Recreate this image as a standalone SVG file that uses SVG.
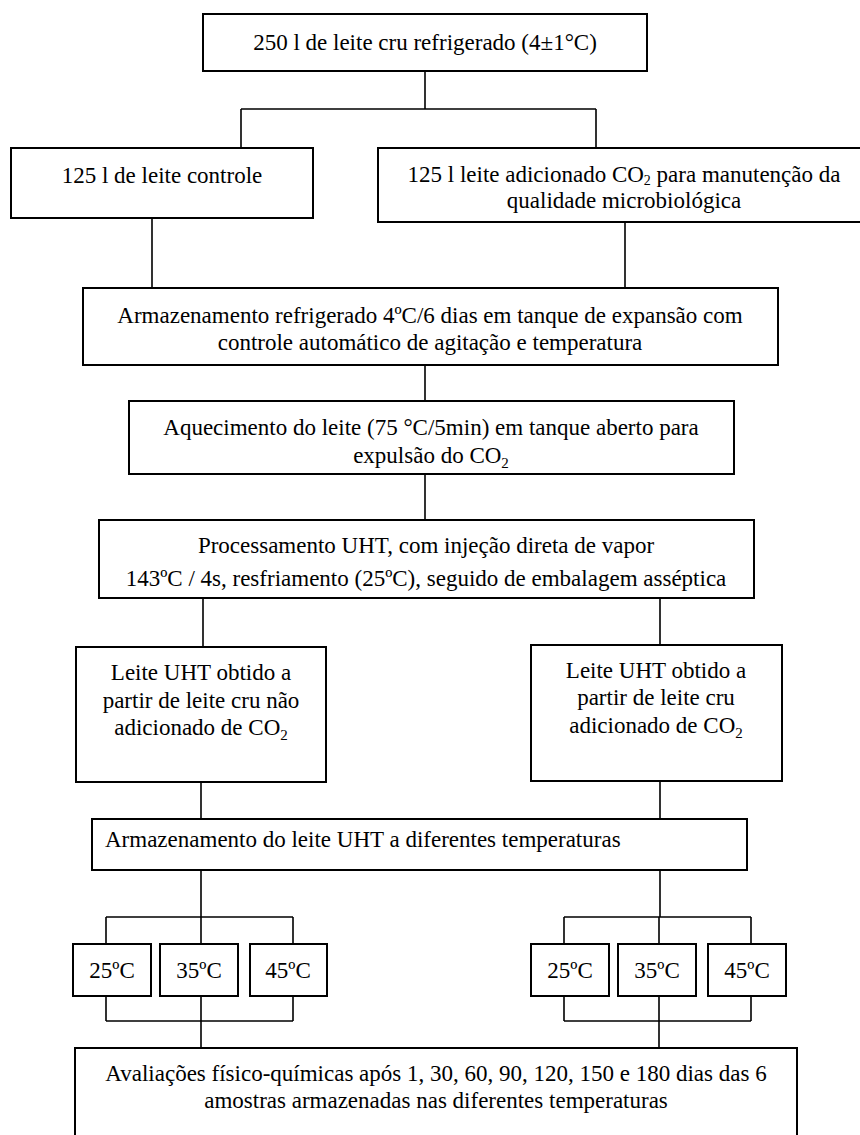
<svg xmlns="http://www.w3.org/2000/svg" width="860" height="1135" viewBox="0 0 860 1135">
<style>
.box{fill:#fff;stroke:#000;stroke-width:2}
.ln{fill:none;stroke:#000;stroke-width:1.6}
text{font-family:"Liberation Serif","Times New Roman",serif;font-size:23px;fill:#000}
.c{text-anchor:middle}
.sub{font-size:15px}
.sub2{font-size:14px}
</style>
<rect width="860" height="1135" fill="#fff"/>
<g id="connectors">
<path class="ln" d="M425 71V109M241 109H596M241 109V148M596 109V148"/>
<path class="ln" d="M152 218V288M625 222V288"/>
<path class="ln" d="M425 365V401M425 474V520"/>
<path class="ln" d="M203 598V647M660 598V645"/>
<path class="ln" d="M201 782V819M660 781V819"/>
<path class="ln" d="M201 870V917M106 917H293M106 917V944M201 917V944M293 917V944"/>
<path class="ln" d="M106 996V1021M201 996V1021M293 996V1021M106 1021H293M201 1021V1048"/>
<path class="ln" d="M660 870V917M564 917H751M564 917V944M659 917V944M751 917V944"/>
<path class="ln" d="M564 996V1021M659 996V1021M751 996V1021M564 1021H751M659 1021V1048"/>
</g>
<g id="n_raw"><rect class="box" x="203" y="14" width="444" height="57"/><text class="c" x="425" y="50">250 l de leite cru refrigerado (4±1°C)</text></g>
<g id="n_control"><rect class="box" x="11" y="148" width="302" height="70"/><text class="c" x="162" y="183">125 l de leite controle</text></g>
<g id="n_co2"><rect class="box" x="378" y="148" width="492" height="74"/><text class="c" x="624" y="182">125 l leite adicionado CO<tspan class="sub2" dy="3">2</tspan><tspan dy="-3"> para manutenção da</tspan></text><text class="c" x="624" y="208">qualidade microbiológica</text></g>
<g id="n_storage"><rect class="box" x="83" y="288" width="695" height="77"/><text class="c" x="430" y="323">Armazenamento refrigerado 4ºC/6 dias em tanque de expansão com</text><text class="c" x="430" y="350">controle automático de agitação e temperatura</text></g>
<g id="n_heat"><rect class="box" x="129" y="401" width="605" height="73"/><text class="c" x="431" y="435">Aquecimento do leite (75 °C/5min) em tanque aberto para</text><text class="c" x="431" y="463">expulsão do CO<tspan class="sub" dy="5">2</tspan></text></g>
<g id="n_uht"><rect class="box" x="99" y="520" width="655" height="78"/><text class="c" x="426" y="553">Processamento UHT, com injeção direta de vapor</text><text class="c" x="426" y="586">143ºC / 4s, resfriamento (25ºC), seguido de embalagem asséptica</text></g>
<g id="n_uht_no"><rect class="box" x="76" y="647" width="250" height="135"/><text class="c" x="201" y="680">Leite UHT obtido a</text><text class="c" x="201" y="708">partir de leite cru não</text><text class="c" x="201" y="735">adicionado de CO<tspan class="sub" dy="5">2</tspan></text></g>
<g id="n_uht_co2"><rect class="box" x="531" y="645" width="251" height="136"/><text class="c" x="656" y="678">Leite UHT obtido a</text><text class="c" x="656" y="705">partir de leite cru</text><text class="c" x="656" y="733">adicionado de CO<tspan class="sub" dy="5">2</tspan></text></g>
<g id="n_store_uht"><rect class="box" x="92" y="819" width="655" height="51"/><text x="105" y="847">Armazenamento do leite UHT a diferentes temperaturas</text></g>
<g id="n_l25"><rect class="box" x="73" y="944" width="78" height="52"/><text class="c" x="112" y="978">25ºC</text></g>
<g id="n_l35"><rect class="box" x="160" y="944" width="78" height="52"/><text class="c" x="199" y="978">35ºC</text></g>
<g id="n_l45"><rect class="box" x="250" y="944" width="77" height="52"/><text class="c" x="288" y="978">45ºC</text></g>
<g id="n_r25"><rect class="box" x="531" y="944" width="78" height="52"/><text class="c" x="570" y="978">25ºC</text></g>
<g id="n_r35"><rect class="box" x="618" y="944" width="78" height="52"/><text class="c" x="657" y="978">35ºC</text></g>
<g id="n_r45"><rect class="box" x="708" y="944" width="78" height="52"/><text class="c" x="747" y="978">45ºC</text></g>
<g id="n_eval"><rect class="box" x="75" y="1048" width="722" height="100"/><text class="c" x="436" y="1081">Avaliações físico-químicas após 1, 30, 60, 90, 120, 150 e 180 dias das 6</text><text class="c" x="436" y="1108">amostras armazenadas nas diferentes temperaturas</text></g>
</svg>
